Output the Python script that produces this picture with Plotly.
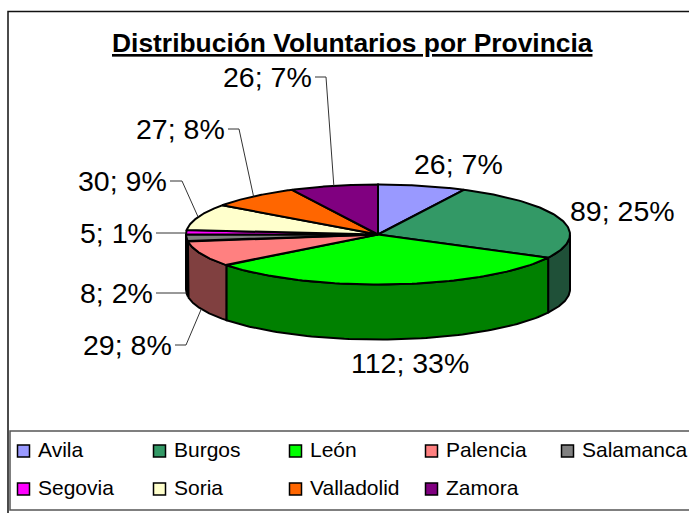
import numpy as np
import plotly.graph_objects as go

# --- data ---
provinces = ["Avila", "Burgos", "León", "Palencia", "Salamanca",
             "Segovia", "Soria", "Valladolid", "Zamora"]
volunteers = [26, 89, 112, 29, 8, 5, 30, 27, 26]
percent_labels = [7, 25, 33, 8, 2, 1, 9, 8, 7]

# --- styles ---
top_colors = ["#9999FF", "#339966", "#00FF00", "#FF8080", "#808080",
              "#FF00FF", "#FFFFCC", "#FF6600", "#800080"]
wall_colors = ["#4D4D80", "#1F5038", "#008000", "#804040", "#404040",
               "#800080", "#808066", "#803300", "#400040"]
W, H = 689, 513
CX, CY, RX, RY, DEPTH = 378, 234.5, 192, 50, 55
FONT = "Liberation Sans"

# label anchor (x, y, xanchor) and optional leader elbow x
label_pos = [(458, 164, "center", None), (622, 211, "center", None),
             (410, 363, "center", None), (174, 345, "right", 186),
             (155, 293, "right", None), (155, 233, "right", None),
             (169, 181, "right", 182), (227, 129, "right", 239),
             (314, 77, "right", 326)]

total = sum(volunteers)
edges = np.concatenate([[0], np.cumsum(volunteers)]) / total * 2 * np.pi


def rim(a, drop=0.0):
    a = np.asarray(a)
    return CX + RX * np.sin(a), CY - RY * np.cos(a) + drop


fig = go.Figure()

# side walls (only the front half of the disc is visible)
for i in range(len(volunteers)):
    a0, a1 = max(edges[i], np.pi / 2), min(edges[i + 1], 3 * np.pi / 2)
    if a1 <= a0:
        continue
    t = np.linspace(a0, a1, 80)
    xt, yt = rim(t)
    xb, yb = rim(t[::-1], DEPTH)
    fig.add_trace(go.Scatter(x=np.r_[xt, xb, xt[0]], y=np.r_[yt, yb, yt[0]],
                             mode="lines", fill="toself", fillcolor=wall_colors[i],
                             line=dict(color="black", width=2), hoverinfo="skip",
                             showlegend=False))

# top face
for i, name in enumerate(provinces):
    t = np.linspace(edges[i], edges[i + 1], 80)
    xt, yt = rim(t)
    fig.add_trace(go.Scatter(x=np.r_[CX, xt, CX], y=np.r_[CY, yt, CY],
                             mode="lines", fill="toself", fillcolor=top_colors[i],
                             line=dict(color="black", width=2), name=name,
                             hoverinfo="name", showlegend=False))

annotations = []
# data labels + leader lines
for i, (v, p) in enumerate(zip(volunteers, percent_labels)):
    lx, ly, anchor, elbow = label_pos[i]
    annotations.append(dict(x=lx, y=ly, text=f"{v}; {p}%", showarrow=False,
                            xanchor=anchor, yanchor="middle",
                            font=dict(family=FONT, size=28.5, color="black")))
    if anchor == "right":
        mid = (edges[i] + edges[i + 1]) / 2
        front = np.pi / 2 < mid < 3 * np.pi / 2
        ex, ey = rim(mid, DEPTH if front else 0)
        xs = [lx + 1] + ([elbow] if elbow else []) + [float(ex)]
        ys = [ly] + ([ly] if elbow else []) + [float(ey) if elbow else ly]
        fig.add_trace(go.Scatter(x=xs, y=ys, mode="lines", hoverinfo="skip",
                                 line=dict(color="#333333", width=1), showlegend=False))

# title
annotations.append(dict(x=352, y=43, text="<b><u>Distribución Voluntarios por Provincia</u></b>",
                        showarrow=False, xanchor="center", yanchor="middle",
                        font=dict(family=FONT, size=26.4, color="black")))

# legend
for i, name in enumerate(provinces):
    sx = 23.5 + 136 * (i % 5)
    sy = 451 + 38 * (i // 5)
    fig.add_trace(go.Scatter(x=[sx], y=[sy], mode="markers", hoverinfo="skip", showlegend=False,
                             marker=dict(symbol="square", size=12, color=top_colors[i],
                                         line=dict(color="black", width=1.5))))
    annotations.append(dict(x=sx + 14.5, y=sy - 2, text=name, showarrow=False,
                            xanchor="left", yanchor="middle", xshift=-2,
                            font=dict(family=FONT, size=21, color="black")))

shapes = [
    dict(type="rect", x0=8, y0=11.5, x1=W + 20, y1=H + 20, line=dict(color="#111111", width=1.5)),
    dict(type="rect", x0=10, y0=431, x1=W + 20, y1=510, fillcolor="white", layer="below",
         line=dict(color="#555555", width=1.5)),
]

fig.update_layout(
    width=W, height=H, margin=dict(l=0, r=0, t=0, b=0), autosize=False,
    paper_bgcolor="white", plot_bgcolor="white", showlegend=False,
    xaxis=dict(range=[0, W], visible=False, fixedrange=True),
    yaxis=dict(range=[H, 0], visible=False, fixedrange=True),
    annotations=annotations, shapes=shapes,
)
fig.write_html("out.html", config={"displayModeBar": False},
               post_script="document.body.style.margin='0';document.documentElement.style.overflow='hidden';")
